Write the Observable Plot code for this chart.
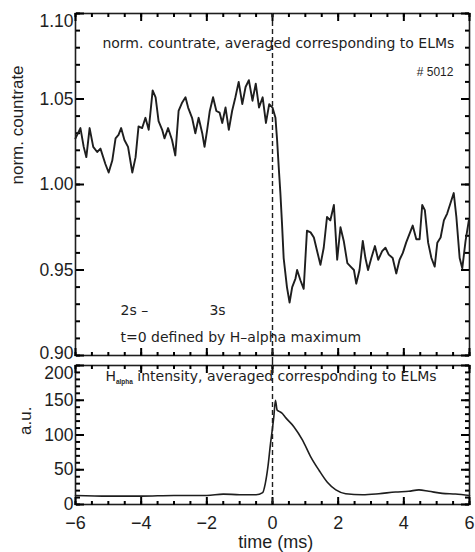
<!DOCTYPE html>
<html><head><meta charset="utf-8">
<script src="https://cdn.jsdelivr.net/npm/d3@7"></script>
<script src="https://cdn.jsdelivr.net/npm/@observablehq/plot@0.6"></script>
<style>
body{margin:0;background:#fff;}
#chart{position:relative;width:475px;height:552px;background:#fff;}
#chart svg{display:block;}
</style></head><body><div id="chart"></div>
<script>
// ---- data ----
const timeTop = [-6.0,-5.95,-5.85,-5.75,-5.67,-5.57,-5.46,-5.34,-5.24,-5.09,-4.99,-4.88,-4.78,-4.69,-4.61,-4.51,-4.40,-4.27,-4.17,-4.08,-3.97,-3.87,-3.77,-3.65,-3.56,-3.47,-3.36,-3.29,-3.18,-3.06,-2.96,-2.86,-2.75,-2.65,-2.57,-2.45,-2.35,-2.25,-2.14,-2.07,-1.99,-1.91,-1.81,-1.71,-1.61,-1.53,-1.43,-1.33,-1.23,-1.13,-1.03,-0.92,-0.82,-0.72,-0.61,-0.51,-0.41,-0.30,-0.20,-0.10,0.00,0.09,0.14,0.19,0.24,0.29,0.34,0.44,0.52,0.60,0.70,0.75,0.85,0.95,1.05,1.16,1.26,1.36,1.46,1.56,1.66,1.76,1.87,1.97,2.07,2.17,2.28,2.38,2.48,2.55,2.65,2.75,2.83,2.91,3.01,3.12,3.22,3.34,3.44,3.54,3.66,3.77,3.87,3.97,4.07,4.17,4.27,4.38,4.48,4.56,4.64,4.74,4.84,4.94,5.02,5.12,5.22,5.32,5.42,5.52,5.60,5.70,5.78,5.88,5.98];
const countrate = [1.027,1.029,1.033,1.022,1.016,1.033,1.022,1.019,1.021,1.012,1.007,1.014,1.027,1.029,1.033,1.026,1.022,1.007,1.016,1.034,1.033,1.039,1.032,1.055,1.051,1.037,1.032,1.027,1.033,1.026,1.017,1.043,1.048,1.051,1.045,1.039,1.030,1.039,1.030,1.022,1.032,1.043,1.051,1.043,1.042,1.036,1.045,1.032,1.043,1.051,1.060,1.047,1.057,1.061,1.049,1.059,1.045,1.051,1.036,1.047,1.045,1.039,1.026,1.010,0.995,0.977,0.957,0.940,0.931,0.940,0.945,0.950,0.944,0.939,0.973,0.972,0.969,0.961,0.953,0.963,0.981,0.979,0.988,0.956,0.975,0.967,0.954,0.952,0.950,0.942,0.950,0.967,0.957,0.950,0.957,0.964,0.956,0.961,0.963,0.959,0.957,0.948,0.956,0.960,0.966,0.971,0.976,0.968,0.968,0.988,0.985,0.966,0.957,0.952,0.966,0.969,0.979,0.983,0.989,0.995,0.981,0.957,0.951,0.967,0.979];

const timeHa = [-6,-5,-4,-3,-2,-1.5,-1,-0.5,-0.3,-0.22,-0.14,-0.06,0.0,0.04,0.09,0.14,0.2,0.3,0.4,0.65,0.91,1.16,1.42,1.67,1.93,2.23,2.74,3.24,3.75,4.15,4.46,4.76,5.17,5.57,6];
const halpha = [13,12,12,13,13,15,14,14,17,30,54,88,110,126,150,136,134,131,125,112,93,69,49,32,21,15.5,14,15.5,18,19,21,19,16,15,13];

const xTicks = [-6,-4,-2,0,2,4,6];
const xTickLabels = ["−6","−4","−2","0","2","4","6"];
const yTopTicks = [0.90,0.95,1.00,1.05,1.10];
const yTopTickLabels = ["0.90","0.95","1.00","1.05","1.10"];
const yHaTicks = [0,50,100,150,200];
const yHaTickLabels = ["0","50","100","150","200"];

const topTitle = "norm. countrate, averaged corresponding to ELMs";
const shotLabel = "# 5012";
const rangeStart = "2s –";
const rangeEnd = "3s";
const tDef = "t=0 defined by H–alpha maximum";
const haTitle = ["H", "alpha", " intensity, averaged corresponding to ELMs"];
const yTopLabel = "norm. countrate";
const yHaLabel = "a.u.";
const xLabel = "time (ms)";

// ---- styling ----
const ink = "#1e1e1e";
const tickInk = "black";
const axisFont = "'Liberation Sans', Arial, sans-serif";
const innerFont = "'DejaVu Sans', sans-serif";
const tickFont = 17.5;
const minorX = d3.range(-12, 13).map(d => d / 2);
const minorYTop = d3.range(90, 111).map(d => d / 100);
const minorYHa = d3.range(0, 21).map(d => d * 10);
const xFmt = new Map(xTicks.map((d, i) => [d, xTickLabels[i]]));
const yTopFmt = new Map(yTopTicks.map((d, i) => [String(d), yTopTickLabels[i]]));
const yHaFmt = new Map(yHaTicks.map((d, i) => [d, yHaTickLabels[i]]));

const W = 475, mL = 75, mR = 6;

// inward ticks on all four sides (axis ticks anchored to the opposite side point inward)
function frameTicks(minX, majX, minY, majY) {
  const o = {stroke: tickInk, strokeWidth: 2, label: null, tickFormat: null, text: null};
  const marks = [];
  for (const [ticks, size] of [[minX, 4], [majX, 8]]) {
    marks.push(Plot.axisX({...o, anchor: "top", frameAnchor: "bottom", ticks, tickSize: size}));
    marks.push(Plot.axisX({...o, anchor: "bottom", frameAnchor: "top", ticks, tickSize: size}));
  }
  for (const [ticks, size] of [[minY, 4], [majY, 8]]) {
    marks.push(Plot.axisY({...o, anchor: "right", frameAnchor: "left", ticks, tickSize: size}));
    marks.push(Plot.axisY({...o, anchor: "left", frameAnchor: "right", ticks, tickSize: size}));
  }
  return marks;
}

const topData = timeTop.map((t, i) => ({t, v: countrate[i]}));
const haData = timeHa.map((t, i) => ({t, v: halpha[i]}));

const topPlot = Plot.plot({
  width: W, height: 362,
  marginTop: 13, marginBottom: 7, marginLeft: mL, marginRight: mR,
  x: {domain: [-6, 6]},
  y: {domain: [0.90, 1.10]},
  style: {fontFamily: axisFont, background: "white", overflow: "visible"},
  marks: [
    Plot.frame({stroke: ink, strokeWidth: 1.6}),
    ...frameTicks(minorX, xTicks, minorYTop, yTopTicks),
    Plot.axisY({anchor: "left", ticks: yTopTicks.slice(1, 4), tickSize: 0, tickPadding: 2, fontSize: tickFont, label: null,
      tickFormat: d => yTopFmt.get(String(d)), fill: ink}),
    Plot.axisY({anchor: "left", ticks: yTopTicks.slice(0, 1), tickSize: 0, tickPadding: 2, fontSize: tickFont, label: null, dy: -2,
      tickFormat: d => yTopFmt.get(String(d)), fill: ink}),
    Plot.axisY({anchor: "left", ticks: yTopTicks.slice(4), tickSize: 0, tickPadding: 2, fontSize: tickFont, label: null, dy: 8,
      tickFormat: d => yTopFmt.get(String(d)), fill: ink}),
    Plot.text([yTopLabel], {frameAnchor: "left", rotate: -90, dx: -58, fontSize: 17, fontFamily: axisFont, fill: ink, lineAnchor: "middle"}),
    Plot.ruleX([0], {stroke: ink, strokeWidth: 1.4, strokeDasharray: "5,3", insetBottom: -7}),
    Plot.line(topData, {x: "t", y: "v", stroke: ink, strokeWidth: 1.9, strokeLinejoin: "round"}),
    Plot.text([topTitle], {x: -5.18, y: 1.0825, textAnchor: "start", lineAnchor: "middle", fontSize: 14, fontFamily: innerFont, fill: ink}),
    Plot.text([shotLabel], {x: 5.51, y: 1.0655, textAnchor: "end", lineAnchor: "middle", fontSize: 12, fontFamily: axisFont, fill: ink}),
    Plot.text([rangeStart], {x: -4.63, y: 0.9263, textAnchor: "start", lineAnchor: "middle", fontSize: 14, fontFamily: innerFont, fill: ink}),
    Plot.text([rangeEnd], {x: -1.92, y: 0.9263, textAnchor: "start", lineAnchor: "middle", fontSize: 14, fontFamily: innerFont, fill: ink}),
    Plot.text([tDef], {x: -4.63, y: 0.9105, textAnchor: "start", lineAnchor: "middle", fontSize: 14, fontFamily: innerFont, fill: ink})
  ]
});

const haPlot = Plot.plot({
  width: W, height: 190,
  marginTop: 3, marginBottom: 48, marginLeft: mL, marginRight: mR,
  x: {domain: [-6, 6]},
  y: {domain: [0, 200]},
  style: {fontFamily: axisFont, background: "white", overflow: "visible"},
  marks: [
    Plot.frame({stroke: ink, strokeWidth: 1.6}),
    ...frameTicks(minorX, xTicks, minorYHa, yHaTicks),
    Plot.axisY({anchor: "left", ticks: yHaTicks.slice(0, 4), tickSize: 0, tickPadding: 2, fontSize: tickFont, label: null,
      tickFormat: d => yHaFmt.get(d), fill: ink}),
    Plot.axisY({anchor: "left", ticks: yHaTicks.slice(4), tickSize: 0, tickPadding: 2, fontSize: tickFont, label: null, dy: 8,
      tickFormat: d => yHaFmt.get(d), fill: ink}),
    Plot.axisX({anchor: "bottom", ticks: xTicks, tickSize: 0, tickPadding: 12, fontSize: 18, label: null,
      tickFormat: d => xFmt.get(d), fill: ink}),
    Plot.text([yHaLabel], {frameAnchor: "left", rotate: -90, dx: -50, fontSize: 17, fontFamily: axisFont, fill: ink, lineAnchor: "middle"}),
    Plot.text([xLabel], {frameAnchor: "bottom", x: 0.1, dy: 38, fontSize: 18, fontFamily: axisFont, fill: ink, lineAnchor: "middle"}),
    Plot.ruleX([0], {stroke: ink, strokeWidth: 1.4, strokeDasharray: "5,3", insetTop: -3}),
    Plot.line(haData, {x: "t", y: "v", stroke: ink, strokeWidth: 1.6, curve: "monotone-x"}),
    Plot.text([haTitle.join("|")], {x: -5.09, y: 184, textAnchor: "start", lineAnchor: "middle", fontSize: 14, fontFamily: innerFont, fill: ink})
  ]
});

const chart = document.getElementById("chart");
chart.appendChild(topPlot);
chart.appendChild(haPlot);

// subscript for H_alpha
d3.select(haPlot).selectAll("text").each(function() {
  const el = d3.select(this);
  const s = this.textContent;
  if (s.includes("|")) {
    const parts = s.split("|");
    el.text(null);
    el.append("tspan").text(parts[0]);
    el.append("tspan").attr("dy", 3).attr("font-size", 6.5).attr("font-family", axisFont).attr("font-weight", "bold").text(parts[1]);
    el.append("tspan").attr("dy", -3).text(parts[2]);
  }
});
</script>
</body></html>
